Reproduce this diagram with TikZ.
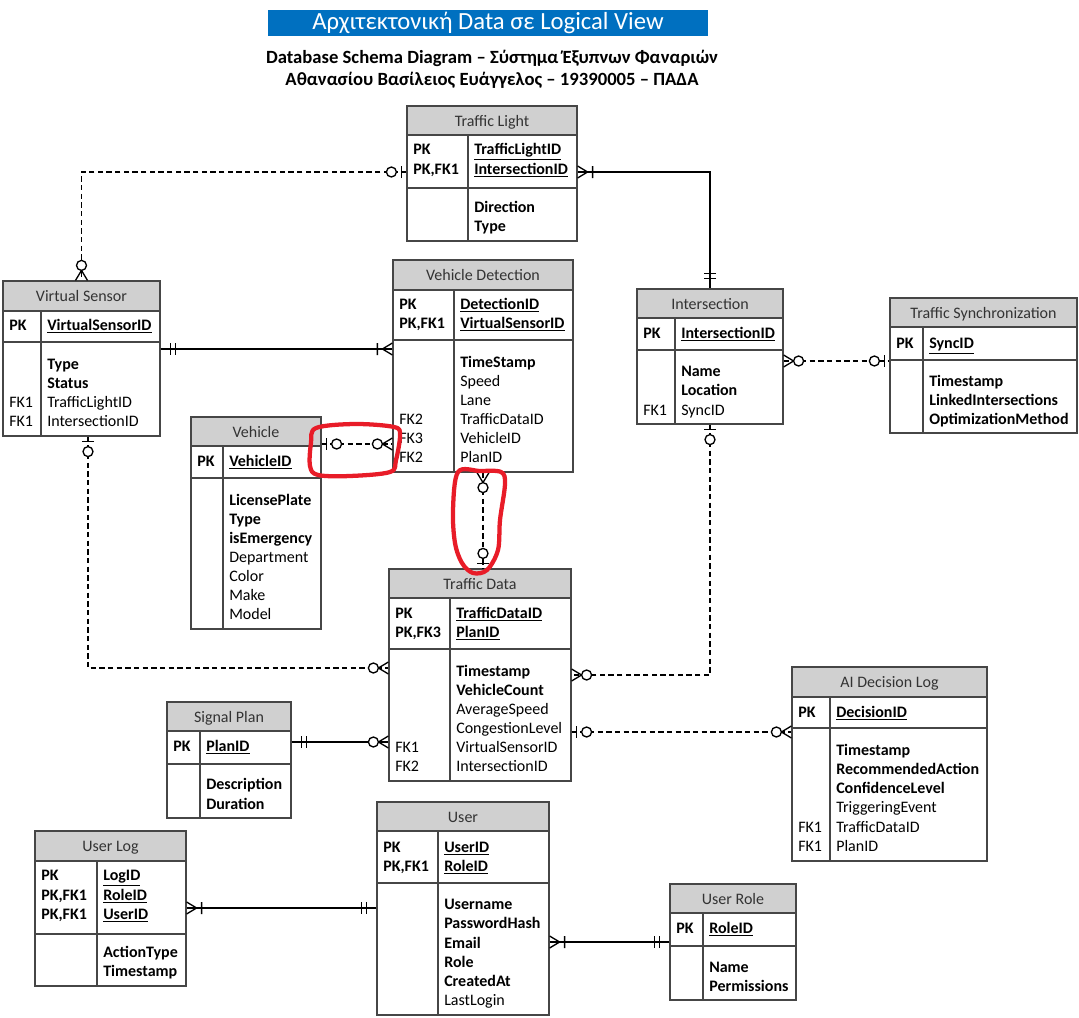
\documentclass[tikz,border=0pt]{standalone}
\usepackage{fontspec}
\setmainfont{Carlito}
\usepackage{tikz}
\usetikzlibrary{fit}
\usetikzlibrary{decorations.markings}

\definecolor{titleblue}{RGB}{0,112,192}
\definecolor{hdrgray}{RGB}{208,208,208}
\definecolor{boxgray}{RGB}{70,70,70}
\definecolor{markred}{RGB}{232,28,40}

\newcommand{\fmtpk}[1]{\underline{#1}}
\newcommand{\fmtbf}[1]{#1}
\newcommand{\fmtnf}[1]{#1}

% end marks, drawn with the entity on the +x side
\newcommand{\erdmone}{\draw[mk] (-10,-6) -- (-10,6) (-15,-6) -- (-15,6);}
\newcommand{\erdzone}{\draw[mk] (-5,-6) -- (-5,6); \draw[mk, fill=white] (-15,0) circle (5);}
\newcommand{\erdomany}{\draw[mk] (0,-6) -- (-10,0) -- (0,6) (-15,-6) -- (-15,6);}
\newcommand{\erdzmany}{\draw[mk] (0,-6) -- (-10,0) -- (0,6); \draw[mk, fill=white] (-15,0) circle (5);}

% #1 name, #2 left, #3 top, #4 right, #5 bottom, #6 header bottom, #7 key bottom, #8 divider, #9 title
\newcommand{\entity}[9]{%
  \fill[hdrgray] (#2,#3) rectangle (#4,#6);
  \draw[boxline] (#2,#6) -- (#4,#6) (#2,#7) -- (#4,#7) (#8,#6) -- (#8,#5);
  \node[boxline, fit={(#2,#3) (#4,#5)}] (#1) {};
  \node[htxt] (#1h) at ({(#2+#4)/2},{(#3+#6)/2}) {#9};
}
% #1 name, #2 key x, #3 field x, #4 rows y/key/style/field
\newcommand{\fields}[4]{%
  \foreach \y/\k/\s/\f [count=\i] in {#4} {
    \node[k\s] (#1k\i) at (#2,\y) {\k};
    \node[\s] (#1f\i) at (#3,\y) {\csname fmt\s\endcsname{\f}};
  }%
}

\tikzset{
  boxline/.style={draw=boxgray, line width=0.9pt, inner sep=0pt},
  htxt/.style={anchor=mid, inner sep=0pt, yshift=-1.8pt, text=black!80, font=\fontsize{12}{14}\selectfont},
  fld/.style={anchor=mid west, inner sep=0pt, yshift=-1.8pt, font=\fontsize{12}{14}\selectfont},
  pk/.style={fld, font=\fontsize{12}{14}\selectfont\bfseries},
  bf/.style={fld, font=\fontsize{12}{14}\selectfont\bfseries},
  nf/.style={fld},
  kpk/.style={pk}, kbf/.style={nf}, knf/.style={nf},
  titlebar/.style={fill=titleblue, text=white, minimum width=330pt, minimum height=19.5pt,
                   inner sep=0pt, font=\fontsize{18.5}{20}\selectfont},
  subtitle/.style={inner sep=0pt, font=\fontsize{14}{16}\selectfont\bfseries},
  mk/.style={solid, draw=black, line width=1pt},
  rel/.style 2 args={line width=1pt, postaction={decorate, decoration={markings,
        mark=at position 0 with {\begin{scope}[xscale=-1]\csname erd#1\endcsname\end{scope}},
        mark=at position 1 with {\csname erd#2\endcsname}}}},
  opt/.style={dash pattern=on 4pt off 2.5pt},
  redmark/.style={draw=markred, line width=3.2pt, line cap=round, line join=round},
}

\begin{document}
\begin{tikzpicture}[x=0.75pt, y=-0.75pt]

            %\draw [help lines, step=20] (0,0) grid (1079,1018);
            \useasboundingbox (0,0) rectangle (1079,1018);

            \path   (488,23) node (title) [titlebar] {Αρχιτεκτονική Data σε Logical View}
                    (492,58) node (sub1) [subtitle] {Database Schema Diagram – Σύστημα Έξυπνων Φαναριών}
                    (492,80) node (sub2) [subtitle] {Αθανασίου Βασίλειος Ευάγγελος – 19390005 – ΠΑΔΑ};

            \entity{tl}{407}{106}{577}{241}{135}{188}{468}{Traffic Light}
            \fields{tl}{413}{474}{149/PK/pk/TrafficLightID, 169/{PK,FK1}/pk/IntersectionID,
                    207//bf/Direction, 226//bf/Type}

            \entity{vs}{3}{281}{160}{436}{311}{342}{41}{Virtual Sensor}
            \fields{vs}{9}{47}{325/PK/pk/VirtualSensorID, 364//bf/Type, 383//bf/Status,
                    402/FK1/nf/TrafficLightID, 421/FK1/nf/IntersectionID}

            \entity{vd}{393}{260}{573}{472}{290}{340}{454}{Vehicle Detection}
            \fields{vd}{399}{460}{304/PK/pk/DetectionID, 323/{PK,FK1}/pk/VirtualSensorID,
                    362//bf/TimeStamp, 381//nf/Speed, 400//nf/Lane, 419/FK2/nf/TrafficDataID,
                    438/FK3/nf/VehicleID, 457/FK2/nf/PlanID}

            \entity{ve}{191}{417}{321}{629}{446}{478}{223}{Vehicle}
            \fields{ve}{197}{229}{461/PK/pk/VehicleID, 500//bf/LicensePlate, 519//bf/Type,
                    538//bf/isEmergency, 557//nf/Department, 576//nf/Color, 595//nf/Make, 614//nf/Model}

            \entity{in}{637}{289}{783}{424}{318}{350}{675}{Intersection}
            \fields{in}{643}{681}{333/PK/pk/IntersectionID, 371//bf/Name, 390//bf/Location,
                    410/FK1/nf/SyncID}

            \entity{ts}{890}{298}{1077}{433}{327}{360}{923}{Traffic Synchronization}
            \fields{ts}{896}{929}{343/PK/pk/SyncID, 381//bf/Timestamp, 400//bf/LinkedIntersections,
                    419//bf/OptimizationMethod}

            \entity{td}{389}{569}{571}{781}{598}{649}{450}{Traffic Data}
            \fields{td}{395}{456}{613/PK/pk/TrafficDataID, 632/{PK,FK3}/pk/PlanID,
                    671//bf/Timestamp, 690//bf/VehicleCount, 709//nf/AverageSpeed,
                    728//nf/CongestionLevel, 747/FK1/nf/VirtualSensorID, 766/FK2/nf/IntersectionID}

            \entity{sp}{167}{702}{291}{818}{731}{764}{200}{Signal Plan}
            \fields{sp}{173}{206}{746/PK/pk/PlanID, 784//bf/Description, 804//bf/Duration}

            \entity{ai}{792}{667}{987}{861}{697}{728}{830}{AI Decision Log}
            \fields{ai}{798}{836}{712/PK/pk/DecisionID, 750//bf/Timestamp, 769//bf/RecommendedAction,
                    788//bf/ConfidenceLevel, 807//nf/TriggeringEvent, 827/FK1/nf/TrafficDataID,
                    846/FK1/nf/PlanID}

            \entity{us}{377}{802}{549}{1015}{831}{883}{438}{User}
            \fields{us}{383}{444}{847/PK/pk/UserID, 866/{PK,FK1}/pk/RoleID, 904//bf/Username,
                    923//bf/PasswordHash, 943//bf/Email, 962//bf/Role, 981//bf/CreatedAt,
                    1000//nf/LastLogin}

            \entity{ul}{35}{831}{186}{986}{861}{934}{97}{User Log}
            \fields{ul}{41}{103}{875/PK/pk/LogID, 895/{PK,FK1}/pk/RoleID, 914/{PK,FK1}/pk/UserID,
                    952//bf/ActionType, 971//bf/Timestamp}

            \entity{ur}{670}{884}{796}{1000}{913}{946}{703}{User Role}
            \fields{ur}{676}{709}{928/PK/pk/RoleID, 967//bf/Name, 986//bf/Permissions}

            \draw[rel={zone}{zmany}, opt] (tl.west |- 0,172) -| (vs.north);
            \draw[rel={omany}{mone}] (tl.east |- 0,172) -| (in.north);
            \draw[rel={mone}{omany}] (vs.east |- 0,349) -- (vd.west |- 0,349);
            \draw[rel={zone}{zmany}, opt] (ve.east |- 0,444) -- (vd.west |- 0,444);
            \draw[rel={zmany}{zone}, opt] (vd.south) -- (vd.south |- td.north);
            \draw[rel={zone}{zmany}, opt] (vs.south -| 88,0) |- (td.west |- 0,668);
            \draw[rel={zone}{zmany}, opt] (in.south) |- (td.east |- 0,675);
            \draw[rel={zmany}{zone}, opt] (in.east |- 0,361) -- (ts.west |- 0,361);
            \draw[rel={mone}{zmany}] (sp.east |- 0,742) -- (td.west |- 0,742);
            \draw[rel={zone}{zmany}, opt] (td.east |- 0,732) -- (ai.west |- 0,732);
            \draw[rel={omany}{mone}] (ul.east |- 0,908) -- (us.west |- 0,908);
            \draw[rel={omany}{mone}] (us.east |- 0,942) -- (ur.west |- 0,942);

            % hand drawn marks
            \draw[redmark] plot[smooth cycle, tension=0.55] coordinates {(316,428) (355,424) (394,427)
                    (400,435) (396,460) (390,472) (350,476) (318,475) (310,466) (311,443)};
            \draw[redmark] plot[smooth cycle, tension=0.55] coordinates {(458,472) (480,471) (501,472)
                    (505,484) (500,520) (498,550) (487,570) (473,573) (462,563) (455,543) (453,510)};

        \end{tikzpicture}
\end{document}
